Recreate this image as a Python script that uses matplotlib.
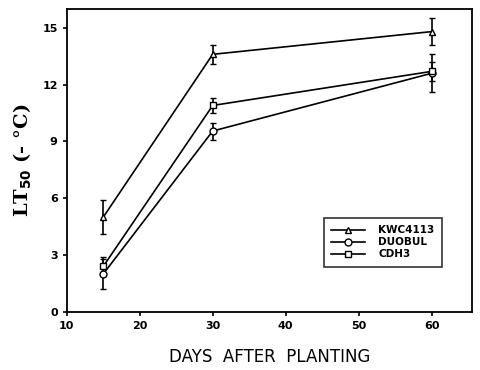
import matplotlib
matplotlib.use("Agg")
import matplotlib.pyplot as plt
from matplotlib.lines import Line2D

days = [15, 30, 60]

kwc_mean = [5.0, 13.6, 14.8]
kwc_err = [0.9, 0.5, 0.7]

cdh_mean = [2.4, 10.9, 12.7]
cdh_err = [0.5, 0.4, 0.5]

duo_mean = [2.0, 9.55, 12.6]
duo_err = [0.8, 0.45, 1.0]

labels = ['KWC4113', 'DUOBUL', 'CDH3']
markers = ['^', 'o', 's']

x_ticks = [10, 20, 30, 40, 50, 60]
y_ticks = [0, 3, 6, 9, 12, 15]

fig = plt.figure(figsize=(4.8, 3.7), dpi=100)
ax = fig.add_axes([0.139, 0.157, 0.844, 0.819])

style = dict(color='black', lw=1.2, ms=5, mfc='white', mew=1.0,
             capsize=2.5, elinewidth=1.2, capthick=1.2)
ax.errorbar(days, kwc_mean, yerr=kwc_err, marker=markers[0], **style)
ax.errorbar(days, duo_mean, yerr=duo_err, marker=markers[1], **style)
ax.errorbar(days, cdh_mean, yerr=cdh_err, marker=markers[2], **style)

ax.set_xlim(10, 65.5)
ax.set_ylim(0, 16)
ax.set_xticks(x_ticks)
ax.set_yticks(y_ticks)
ax.tick_params(direction='out', length=3, width=1.2, labelsize=8)
for lab in ax.get_xticklabels() + ax.get_yticklabels():
    lab.set_fontweight('bold')
for sp in ax.spines.values():
    sp.set_linewidth(1.3)

ax.set_xlabel('DAYS  AFTER  PLANTING', fontsize=12, labelpad=12)
ax.set_ylabel(r'LT$_{\mathbf{50}}$ (- °C)', fontsize=14, fontweight='bold',
              family='DejaVu Serif', labelpad=6)

# legend: line - marker - line, no error bars
handles = [Line2D([], [], color='black', lw=1.2, marker=m, ms=5,
                  mfc='white', mew=1.0) for m in markers]
leg = ax.legend(handles, labels, loc='lower right',
                bbox_to_anchor=(0.94, 0.13), frameon=True, fancybox=False,
                edgecolor='black', handlelength=3.2, handletextpad=1.3,
                borderpad=0.75, labelspacing=0.2,
                prop={'weight': 'bold', 'size': 7.5})
leg.get_frame().set_linewidth(1.2)

fig.savefig('out.png', dpi=100)
